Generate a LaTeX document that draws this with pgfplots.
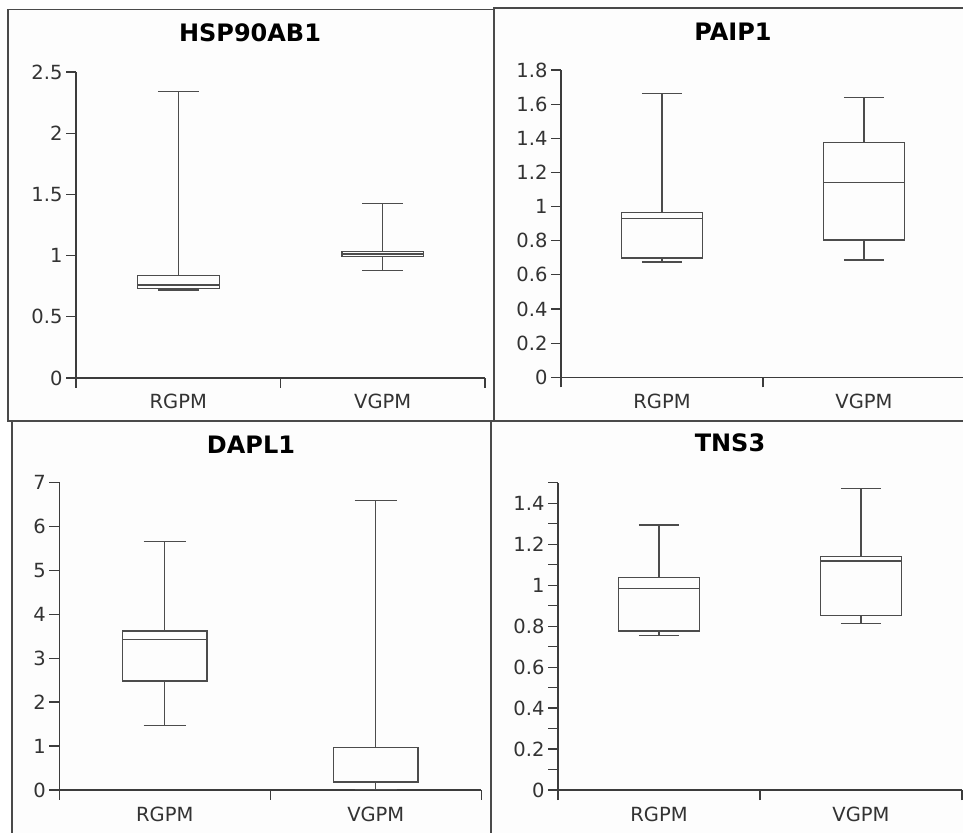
\documentclass[border=0pt]{standalone}
\usepackage{fontspec}
\setmainfont{DejaVu Sans}
\usepackage{pgfplots}
\pgfplotsset{compat=1.18}
\usepgfplotslibrary{statistics}

\definecolor{boxgray}{HTML}{4C4C4C}
\definecolor{axgray}{HTML}{3C3C3C}
\definecolor{txtgray}{HTML}{333333}
\definecolor{framegray}{HTML}{4A4A4A}
\definecolor{panelbg}{HTML}{FDFDFD}

\pgfplotsset{
  panel/.style={
    scale only axis,
    anchor=south west,
    xmin=0, xmax=2, ymin=0,
    axis x line*=bottom, axis y line*=left,
    axis line style={axgray, line width=1.2pt},
    tick style={axgray, line width=1.2pt},
    tick align=outside,
    major tick length=10pt, minor tick length=10pt,
    xtick={0,1,2}, xticklabels={,,},
    extra x ticks={0.5,1.5}, extra x tick labels={RGPM,VGPM},
    extra x tick style={major tick style={draw=none}},
    xticklabel style={yshift=-3pt},
    ticklabel style={font=\fontsize{19.5}{19.5}\selectfont, text=txtgray},
    /pgf/number format/assume math mode=true,
  },
  bx/.style={boxgray, line width=1.3pt, solid, mark=none,
    boxplot/draw direction=y,
    boxplot/every box/.style={line width=1.3pt},
    boxplot/every whisker/.style={line width=1.3pt},
    boxplot/every median/.style={line width=1.3pt},
    boxplot prepared={#1, box extend=0.4, whisker extend=0.2}},
}

\begin{document}
\begin{tikzpicture}
\fill[white] (0pt,0pt) rectangle (963pt,832pt);

% panel frames
\draw[framegray, line width=1.6pt, fill=panelbg] (8pt,822.3pt) rectangle (494pt,411pt);
\draw[framegray, line width=1.6pt, fill=panelbg] (494pt,824pt) rectangle (975pt,411pt);
\draw[framegray, line width=1.6pt, fill=panelbg] (12pt,411pt) rectangle (491pt,-10pt);
\draw[framegray, line width=1.6pt, fill=panelbg] (491pt,411pt) rectangle (975pt,-10pt);

% titles
\node[font=\bfseries\fontsize{24}{24}\selectfont] at (250pt,799pt) {HSP90AB1};
\node[font=\bfseries\fontsize{24}{24}\selectfont] at (733pt,800pt) {PAIP1};
\node[font=\bfseries\fontsize{24}{24}\selectfont] at (251pt,387pt) {DAPL1};
\node[font=\bfseries\fontsize{24}{24}\selectfont] at (730pt,389pt) {TNS3};

% HSP90AB1
\begin{axis}[panel, at={(76pt,454pt)}, width=409pt, height=306pt,
  ymax=2.5, ytick={0,0.5,1,1.5,2,2.5}]
\addplot[bx={draw position=0.5, lower whisker=0.72, lower quartile=0.73,
  median=0.76, upper quartile=0.835, upper whisker=2.34}] coordinates {};
\addplot[bx={draw position=1.5, lower whisker=0.88, lower quartile=0.99,
  median=1.012, upper quartile=1.032, upper whisker=1.427}] coordinates {};
\end{axis}

% PAIP1
\begin{axis}[panel, at={(561pt,454.7pt)}, width=404pt, height=307.3pt,
  ymax=1.8, ytick={0,0.2,0.4,0.6,0.8,1,1.2,1.4,1.6,1.8}]
\addplot[bx={draw position=0.5, lower whisker=0.675, lower quartile=0.699,
  median=0.931, upper quartile=0.967, upper whisker=1.664}] coordinates {};
\addplot[bx={draw position=1.5, lower whisker=0.687, lower quartile=0.804,
  median=1.142, upper quartile=1.377, upper whisker=1.640}] coordinates {};
\end{axis}

% DAPL1
\begin{axis}[panel, at={(59.3pt,42pt)}, width=422pt, height=307.7pt,
  ymax=7, ytick={0,1,2,3,4,5,6,7}]
\addplot[bx={draw position=0.5, lower whisker=1.47, lower quartile=2.48,
  median=3.43, upper quartile=3.62, upper whisker=5.65}] coordinates {};
\addplot[bx={draw position=1.5, lower whisker=0.015, lower quartile=0.175,
  median=0.20, upper quartile=0.96, upper whisker=6.58}] coordinates {};
\end{axis}

% TNS3
\begin{axis}[panel, at={(558pt,42pt)}, width=404pt, height=307.2pt,
  ymax=1.5, ytick={0,0.2,0.4,0.6,0.8,1,1.2,1.4},
  minor ytick={0.1,0.3,0.5,0.7,0.9,1.1,1.3,1.5}]
\addplot[bx={draw position=0.5, lower whisker=0.753, lower quartile=0.776,
  median=0.985, upper quartile=1.038, upper whisker=1.294}] coordinates {};
\addplot[bx={draw position=1.5, lower whisker=0.814, lower quartile=0.853,
  median=1.118, upper quartile=1.139, upper whisker=1.471}] coordinates {};
\end{axis}

\pgfresetboundingbox
\path[use as bounding box] (0pt,0pt) rectangle (963pt,832pt);
\end{tikzpicture}
\end{document}
